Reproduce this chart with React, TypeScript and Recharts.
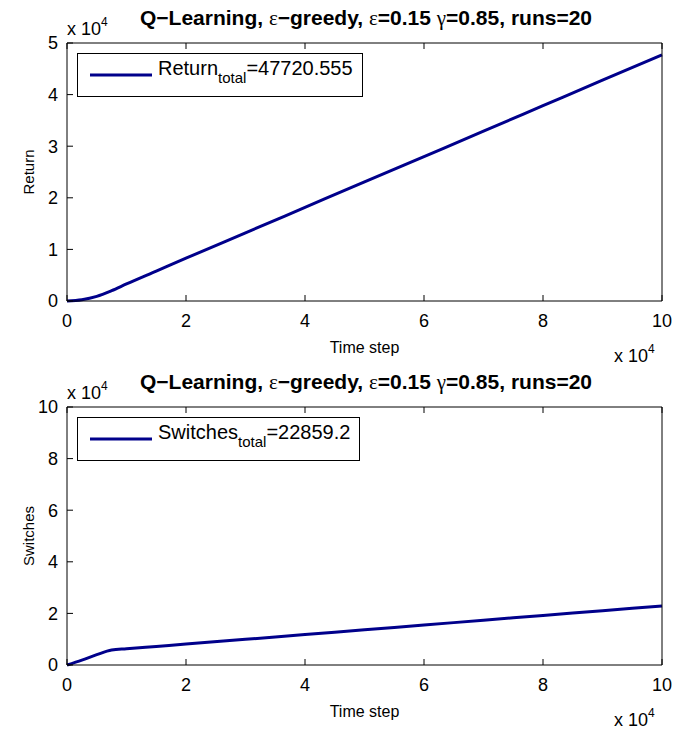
import React from "react";
import { LineChart, Line, XAxis, YAxis, Label } from "recharts";

// time step in units of 10^4
const timeSteps = [0, 0.25, 0.5, 0.75, 1, 1.5, 2, 3, 4, 5, 6, 7, 8, 9, 10];
// cumulative return, units of 10^4
const returnValues = [0, 0.025, 0.09, 0.2, 0.33, 0.58, 0.83, 1.32, 1.815, 2.31, 2.8, 3.29, 3.785, 4.28, 4.77];
// cumulative switches, units of 10^4
const switchValues = [0, 0.19, 0.4, 0.58, 0.63, 0.72, 0.81, 0.995, 1.18, 1.365, 1.55, 1.735, 1.92, 2.105, 2.29];

const xTicks = [0, 2, 4, 6, 8, 10];
const returnTicks = [0, 1, 2, 3, 4, 5];
const switchTicks = [0, 2, 4, 6, 8, 10];

const FONT = "'Liberation Sans', Arial, sans-serif";
const SERIF = "'Liberation Serif', 'Times New Roman', serif";
const LINE_COLOR = "#00008b";
const CHART_H = 365;
const OFFSET2 = 364;

const tickStyle = { fill: "#000", fontSize: 18, fontFamily: FONT };

interface PanelProps {
  values: number[];
  yTicks: number[];
  yMax: number;
  yLabel: string;
  legendName: string;
  legendValue: string;
  top: number;
}

function Panel({ values, yTicks, yMax, yLabel, legendName, legendValue, top }: PanelProps) {
  const data = timeSteps.map((t, i) => ({ t, v: values[i] }));
  return (
    <div style={{ position: "absolute", left: 0, top, width: 675, height: CHART_H }}>
      <LineChart width={675} height={CHART_H} data={data} margin={{ top: 42, right: 12, bottom: 10, left: 10 }}>
        <XAxis
          dataKey="t"
          type="number"
          domain={[0, 10]}
          ticks={xTicks}
          height={54}
          tick={tickStyle}
          tickSize={-6}
          tickMargin={19}
          stroke="#000"
        >
          <Label value="Time step" position="insideBottom" offset={2} style={{ fill: "#000", fontSize: 16, fontFamily: FONT }} />
        </XAxis>
        <XAxis
          xAxisId="top"
          orientation="top"
          dataKey="t"
          type="number"
          domain={[0, 10]}
          ticks={xTicks}
          height={1}
          tickSize={-6}
          tickFormatter={() => ""}
          stroke="#000"
        />
        <YAxis
          type="number"
          domain={[0, yMax]}
          ticks={yTicks}
          width={57}
          tick={tickStyle}
          tickSize={-6}
          tickMargin={15}
          stroke="#000"
        >
          <Label
            value={yLabel}
            angle={-90}
            position="insideLeft"
            offset={19}
            style={{ fill: "#000", fontSize: 15, fontFamily: FONT, textAnchor: "middle" }}
          />
        </YAxis>
        <YAxis
          yAxisId="right"
          orientation="right"
          type="number"
          domain={[0, yMax]}
          ticks={yTicks}
          width={1}
          tickSize={-6}
          tickFormatter={() => ""}
          stroke="#000"
        />
        <Line
          type="monotone"
          dataKey="v"
          stroke={LINE_COLOR}
          strokeWidth={3}
          dot={false}
          isAnimationActive={false}
        />
      </LineChart>
      <div
        style={{
          position: "absolute",
          left: 77,
          top: 53,
          height: 44,
          boxSizing: "border-box",
          border: "1px solid #000",
          background: "#fff",
          display: "flex",
          alignItems: "center",
          paddingLeft: 12,
          paddingRight: 9,
          fontFamily: FONT,
          fontSize: 20,
          color: "#000",
        }}
      >
        <svg width={62} height={6} style={{ marginRight: 6 }}>
          <line x1={0} y1={3} x2={62} y2={3} stroke={LINE_COLOR} strokeWidth={3} />
        </svg>
        <span style={{ whiteSpace: "nowrap", position: "relative", top: -4 }}>
          {legendName}
          <sub style={{ fontSize: 15, verticalAlign: "-8px" }}>total</sub>={legendValue}
        </span>
      </div>
    </div>
  );
}

function Overlay() {
  const rows = [0, OFFSET2];
  return (
    <svg width={675} height={733} style={{ position: "absolute", left: 0, top: 0, pointerEvents: "none" }}>
      {rows.map((dy) => (
        <g key={dy} transform={`translate(0,${dy})`} fontFamily={FONT} fill="#000">
          <text x={366} y={25} textAnchor="middle" fontSize={21} fontWeight="bold">
            Q−Learning, <tspan fontFamily={SERIF} fontWeight="normal">ε</tspan>−greedy,{" "}
            <tspan fontFamily={SERIF} fontWeight="normal">ε</tspan>=0.15{" "}
            <tspan fontFamily={SERIF} fontWeight="normal">γ</tspan>=0.85, runs=20
          </text>
          <text x={67} y={35} fontSize={18}>
            x 10<tspan fontSize={12} dy={-9}>4</tspan>
          </text>
          <text x={614} y={362} fontSize={18}>
            x 10<tspan fontSize={12} dy={-9}>4</tspan>
          </text>
        </g>
      ))}
    </svg>
  );
}

export default function App() {
  return (
    <div style={{ position: "absolute", left: 0, top: 0, width: 675, height: 733, background: "#fff" }}>
      <Panel
        values={returnValues}
        yTicks={returnTicks}
        yMax={5}
        yLabel="Return"
        legendName="Return"
        legendValue="47720.555"
        top={0}
      />
      <Panel
        values={switchValues}
        yTicks={switchTicks}
        yMax={10}
        yLabel="Switches"
        legendName="Switches"
        legendValue="22859.2"
        top={OFFSET2}
      />
      <Overlay />
    </div>
  );
}
